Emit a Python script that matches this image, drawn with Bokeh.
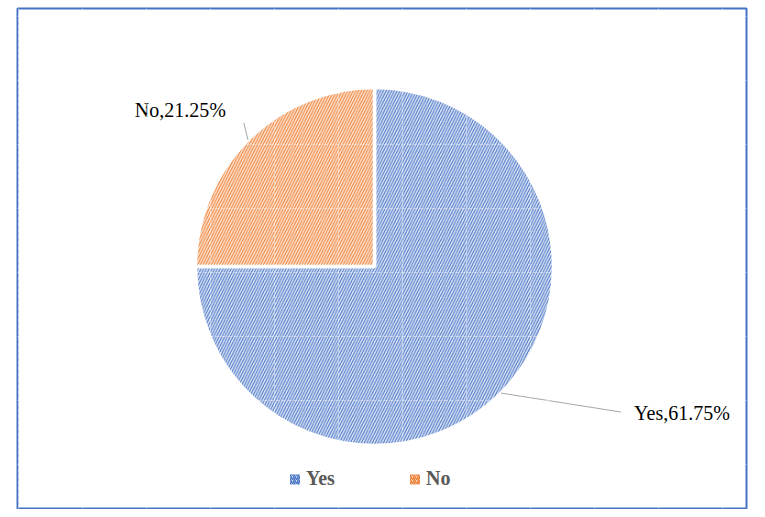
import numpy as np
from bokeh.plotting import figure
from bokeh.models import Range1d, ColumnDataSource, Grid, FixedTicker
from bokeh.core.properties import value
from bokeh.embed import file_html
from bokeh.resources import INLINE

# ---- data ----
categories = ["Yes", "No"]
label_values = [61.75, 21.25]          # percentages printed in the labels
slice_shares = [75.0, 25.0]            # share of the circle each slice covers
fill_colors = ["#DCE4F5", "#FDE4D3"]
hatch_colors = ["#4472C4", "#ED7D31"]

# ---- layout (page pixels -> data units, 1:1) ----
FW, FH = 729, 500
p = figure(width=17 + FW + 2, height=8 + FH + 1, output_backend="svg", toolbar_location=None,
           x_range=Range1d(0, FW), y_range=Range1d(0, FH),
           x_axis_location=None, y_axis_location=None,
           min_border_left=17, min_border_right=2, min_border_top=8, min_border_bottom=1)
for g in list(p.grid):
    g.visible = False
p.outline_line_color = "#4472C4"
p.outline_line_width = 2
p.background_fill_color = "white"
p.border_fill_color = "white"

cx, cy, r = 357, 242, 179

shares = np.array(slice_shares) / np.sum(slice_shares)
ends = np.pi / 2 - 2 * np.pi * np.cumsum(shares)
starts = np.concatenate([[np.pi / 2], ends[:-1]])
mids = (starts + ends) / 2

src = ColumnDataSource(dict(cat=categories, start=starts, end=ends,
                            fill=fill_colors, hatch=hatch_colors))
p.wedge(x=cx, y=cy, radius=r, start_angle="start", end_angle="end", direction="clock",
        source=src, fill_color="fill", hatch_color="hatch",
        hatch_pattern="right_diagonal_line", hatch_scale=5.5, hatch_weight=1.0,
        line_color="white", line_width=3.5)

# faint texture grid (white, only visible on the pie)
for dim, ticks in ((0, [float(t) for t in np.arange(1, FW, 64)]),
                   (1, [float(t) for t in np.arange(44, FH, 64)])):
    g = Grid(dimension=dim, ticker=FixedTicker(ticks=ticks), grid_line_color="white",
             grid_line_alpha=0.45, grid_line_width=1, grid_line_dash="4 2", level="overlay")
    p.add_layout(g)

# leader lines + labels
rim_x = cx + r * np.cos(mids)
rim_y = cy + r * np.sin(mids)
lead_dx = [120, -4]
lead_dy = [-19, 17]
end_x = rim_x + np.array(lead_dx)
end_y = rim_y + np.array(lead_dy)
for i in range(len(categories)):
    p.line([rim_x[i], end_x[i]], [rim_y[i], end_y[i]], line_color="#A6A6A6", line_width=1)

labels = [f"{c},{v:.2f}%" for c, v in zip(categories, label_values)]
txt_dx = [13, -18]
txt_dy = [-1, 13]
aligns = ["left", "right"]
p.text(x=list(end_x + np.array(txt_dx)), y=list(end_y + np.array(txt_dy)), text=labels,
       text_align=aligns, text_baseline="alphabetic",
       text_font=value("Liberation Serif"), text_font_size="20px", text_color="black")

# legend
leg_x = [277.5, 397.5]
leg_y = [29, 29]
p.rect(x=leg_x, y=leg_y, width=10, height=10, fill_color=fill_colors, hatch_color=hatch_colors,
       hatch_pattern="right_diagonal_line", hatch_scale=4, hatch_weight=1.5, line_color=None)
p.text(x=[x + 11 for x in leg_x], y=[31, 31], text=categories, text_align="left",
       text_baseline="alphabetic", text_font=value("Liberation Serif"), text_font_size="20px",
       text_font_style="bold", text_color="#595959")

open("out.html", "w").write(file_html(p, INLINE))
